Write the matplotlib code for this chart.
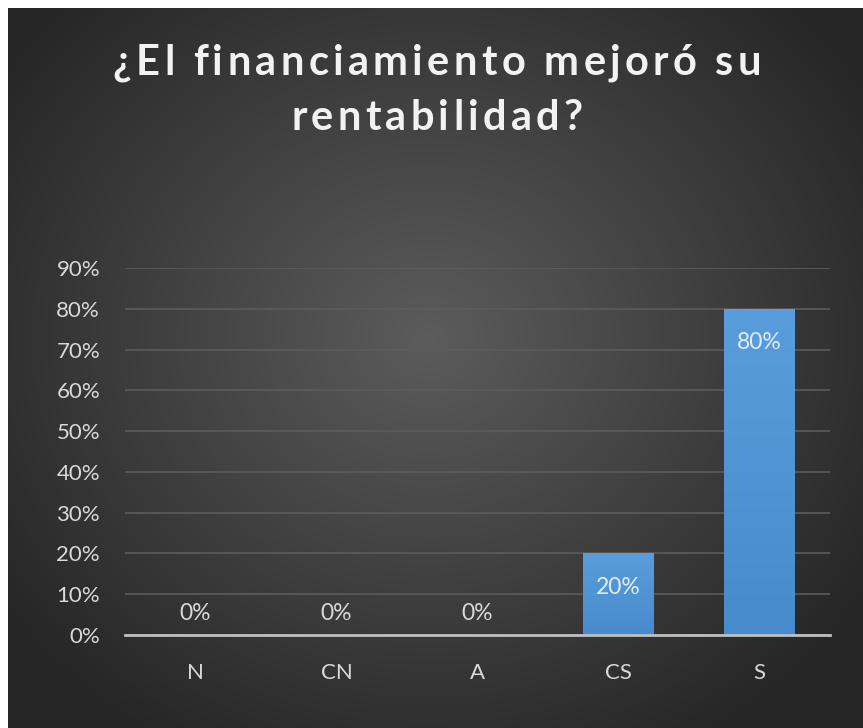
import numpy as np
import matplotlib.pyplot as plt
from matplotlib.font_manager import FontProperties

categorias = ["N", "CN", "A", "CS", "S"]
valores = [0.0, 0.0, 0.0, 0.20, 0.80]
etiquetas = ["0%", "0%", "0%", "20%", "80%"]
ticks_y = [0.0, 0.1, 0.2, 0.3, 0.4, 0.5, 0.6, 0.7, 0.8, 0.9]
titulo = ["¿El financiamiento mejoró su", "rentabilidad?"]

plt.rcParams['font.family'] = ['Lato', 'DejaVu Sans']

W, H = 863, 728
fig = plt.figure(figsize=(W / 100, H / 100), dpi=100)
fig.patch.set_facecolor("white")

# fondo oscuro con degradado radial
bg = fig.add_axes([8 / W, 0, 855 / W, 720 / H])
yy, xx = np.mgrid[0:720, 0:855]
r = np.sqrt(((xx - 420) / 520) ** 2 + ((yy - 330) / 470) ** 2)
r = np.clip(r, 0, 1)
shade = 0.36 - 0.21 * r
bg.imshow(np.dstack([shade, shade, shade]), aspect="auto", extent=[0, 1, 0, 1])
bg.axis("off")

# área del gráfico
ax = fig.add_axes([125 / W, (H - 635) / H, 705 / W, 367 / H])
ax.patch.set_alpha(0)
x = np.arange(len(categorias))
bars = ax.bar(x, valores, width=0.5, color="#5298d8", zorder=3)

# degradado vertical dentro de cada barra
grad = np.linspace(0, 1, 100).reshape(-1, 1)
top_c = np.array([0x5a, 0x9d, 0xdc]) / 255
bot_c = np.array([0x48, 0x8b, 0xcd]) / 255
img = top_c * (1 - grad[..., None]) + bot_c * grad[..., None]
for b in bars:
    if b.get_height() > 0:
        b.set_facecolor("none")
        im = ax.imshow(img, aspect="auto", zorder=3,
                       extent=[b.get_x(), b.get_x() + b.get_width(), 0, b.get_height()])
        im.set_clip_path(b)
ax.set_xlim(-0.5, 4.5)
ax.set_ylim(0, 0.9)

ax.set_yticks(ticks_y)
ax.set_yticklabels([f"{int(round(t * 100))}%" for t in ticks_y])
ax.set_xticks(x)
ax.set_xticklabels(categorias)
ax.tick_params(colors="#d9d9d9", labelsize=16, length=0)
ax.tick_params(axis="x", pad=20)
ax.tick_params(axis="y", pad=18)
ax.grid(axis="y", color="#5c5c5c", linewidth=1.2, zorder=0)
for s in ["top", "right", "left"]:
    ax.spines[s].set_visible(False)
ax.spines["bottom"].set_color("#bfbfbf")
ax.spines["bottom"].set_linewidth(2)
ax.spines["bottom"].set_zorder(4)

for xi, v, lab in zip(x, valores, etiquetas):
    if v > 0:
        ax.annotate(lab, (xi, v), xytext=(0, -34), textcoords="offset pixels",
                    ha="center", va="center", color="#e3ecf5", fontsize=16.5, zorder=5)
    else:
        ax.annotate(lab, (xi, v), xytext=(0, 21), textcoords="offset pixels",
                    ha="center", va="center", color="#d9d9d9", fontsize=16.5, zorder=5)

# título con espaciado entre letras
fp = FontProperties(family=['Lato', 'DejaVu Sans'], weight="bold", size=30)
renderer = fig.canvas.get_renderer()


def ancho(s):
    if not s:
        return 0.0
    w, _, _ = renderer.get_text_width_height_descent(s + "l", fp, ismath=False)
    wl, _, _ = renderer.get_text_width_height_descent("l", fp, ismath=False)
    return w - wl


espacio = 4.3
for linea, y_px in zip(titulo, [75, 130]):
    total = ancho(linea) + espacio * (len(linea) - 1)
    x0 = 437 - total / 2
    for i, ch in enumerate(linea):
        xp = x0 + ancho(linea[:i]) + espacio * i
        fig.text(xp / W, 1 - y_px / H, ch, ha="left", va="baseline",
                 color="#f2f2f2", fontproperties=fp)

fig.savefig("out.png", dpi=100, facecolor=fig.get_facecolor())
